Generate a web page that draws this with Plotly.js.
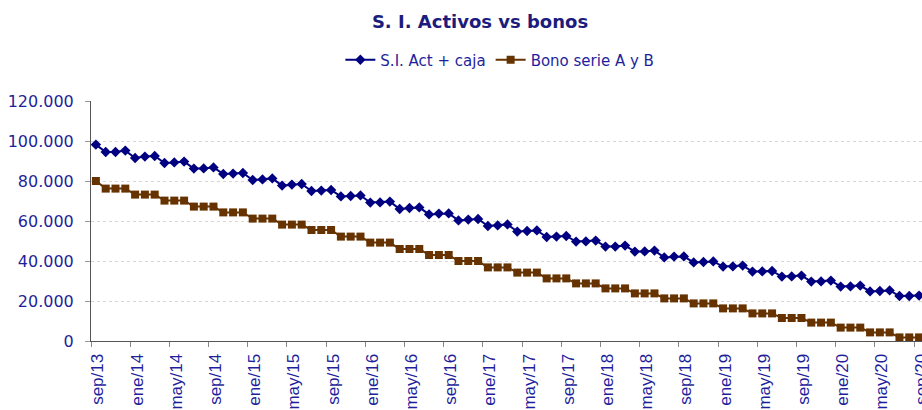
<!DOCTYPE html>
<html>
<head>
<meta charset="utf-8">
<script src="https://cdn.plot.ly/plotly-3.0.1.min.js"></script>
<style>html,body{margin:0;padding:0;background:#fff;}#chart{width:922px;height:410px;}</style>
</head>
<body>
<div id="chart"></div>
<script>
var months = [
  "sep/13","oct/13","nov/13","dic/13",
  "ene/14","feb/14","mar/14","abr/14","may/14","jun/14","jul/14","ago/14","sep/14","oct/14","nov/14","dic/14",
  "ene/15","feb/15","mar/15","abr/15","may/15","jun/15","jul/15","ago/15","sep/15","oct/15","nov/15","dic/15",
  "ene/16","feb/16","mar/16","abr/16","may/16","jun/16","jul/16","ago/16","sep/16","oct/16","nov/16","dic/16",
  "ene/17","feb/17","mar/17","abr/17","may/17","jun/17","jul/17","ago/17","sep/17","oct/17","nov/17","dic/17",
  "ene/18","feb/18","mar/18","abr/18","may/18","jun/18","jul/18","ago/18","sep/18","oct/18","nov/18","dic/18",
  "ene/19","feb/19","mar/19","abr/19","may/19","jun/19","jul/19","ago/19","sep/19","oct/19","nov/19","dic/19",
  "ene/20","feb/20","mar/20","abr/20","may/20","jun/20","jul/20","ago/20","sep/20"
];

var activos = [
  98200,
  94500, 94500, 95200,
  91500, 92200, 92500,
  89000, 89300, 89700,
  86200, 86300, 86800,
  83500, 83700, 84000,
  80500, 80800, 81300,
  77700, 78200, 78500,
  75000, 75200, 75500,
  72300, 72500, 72800,
  69200, 69300, 69700,
  66000, 66500, 66800,
  63300, 63700, 63800,
  60300, 60700, 61000,
  57500, 57800, 58300,
  54700, 55000, 55300,
  52000, 52200, 52500,
  49700, 49800, 50200,
  47200, 47200, 47700,
  44700, 44800, 45200,
  41800, 42200, 42300,
  39300, 39500, 39800,
  37200, 37300, 37700,
  34700, 34800, 35000,
  32200, 32300, 32700,
  29700, 29800, 30200,
  27200, 27300, 27700,
  24800, 25000, 25300,
  22500, 22500, 22700
];

var bonos = [
  80000,
  76200, 76200, 76200,
  73200, 73200, 73200,
  70200, 70200, 70200,
  67200, 67200, 67200,
  64300, 64300, 64300,
  61200, 61200, 61200,
  58200, 58200, 58200,
  55500, 55500, 55500,
  52200, 52200, 52200,
  49200, 49200, 49200,
  46000, 46000, 46000,
  43000, 43000, 43000,
  40000, 40000, 40000,
  36800, 36800, 36800,
  34200, 34200, 34200,
  31300, 31300, 31300,
  28800, 28800, 28800,
  26300, 26300, 26300,
  23800, 23800, 23800,
  21300, 21300, 21300,
  18800, 18800, 18800,
  16300, 16300, 16300,
  13800, 13800, 13800,
  11500, 11500, 11500,
  9200, 9200, 9200,
  6700, 6700, 6700,
  4300, 4300, 4300,
  1800, 1800, 1800
];

var seriesNames = ["S.I. Act + caja", "Bono serie A y B"];
var yTicks = [0, 20000, 40000, 60000, 80000, 100000, 120000];

var textBlue = "#1f1f9c";

var traces = [
  {
    x: months, y: activos, name: seriesNames[0], type: "scatter", mode: "lines+markers",
    line: {color: "#000080", width: 2},
    marker: {symbol: "diamond", size: 8, color: "#000080"}
  },
  {
    x: months, y: bonos, name: seriesNames[1], type: "scatter", mode: "lines+markers",
    line: {color: "#663300", width: 2},
    marker: {symbol: "square", size: 8, color: "#663300"}
  }
];

var layout = {
  width: 922, height: 410,
  margin: {l: 91, r: 0, t: 101, b: 69, pad: 0},
  paper_bgcolor: "#ffffff", plot_bgcolor: "#ffffff",
  separators: ",.",
  title: {
    text: "<b>S. I. Activos vs bonos</b>",
    font: {family: "DejaVu Sans", size: 18, color: "#1c1c7c"},
    x: 480/922, xref: "container", xanchor: "center",
    y: 1 - 22/410, yref: "container", yanchor: "middle"
  },
  showlegend: true,
  legend: {
    orientation: "h", x: 0.492, xref: "paper", xanchor: "center",
    y: 1 - 60/410, yref: "container", yanchor: "middle",
    font: {family: "DejaVu Sans", size: 15, color: textBlue},
    bgcolor: "rgba(0,0,0,0)", itemwidth: 30
  },
  xaxis: {
    type: "category",
    range: [-0.5, 84.3],
    tickmode: "linear", tick0: 0, dtick: 4,
    tickson: "boundaries",
    ticks: "outside", ticklen: 5, tickcolor: "#888888", tickwidth: 1,
    tickangle: -90,
    ticklabelstandoff: 5,
    ticklabelshift: 2,
    tickfont: {family: "Liberation Sans", size: 17, color: textBlue},
    showgrid: false,
    showline: true, linecolor: "#555555", linewidth: 1,
    zeroline: false, fixedrange: true
  },
  yaxis: {
    range: [0, 120000],
    tickmode: "array", tickvals: yTicks,
    tickformat: ",d",
    ticks: "outside", ticklen: 5, tickcolor: "#999999",
    ticklabelstandoff: 8,
    tickfont: {family: "DejaVu Sans", size: 16, color: textBlue},
    showgrid: true, gridcolor: "#d6d6d6", griddash: "dot", gridwidth: 1,
    showline: true, linecolor: "#555555", linewidth: 1,
    zeroline: false, fixedrange: true
  }
};

Plotly.newPlot("chart", traces, layout, {displayModeBar: false, staticPlot: true});
</script>
</body>
</html>
